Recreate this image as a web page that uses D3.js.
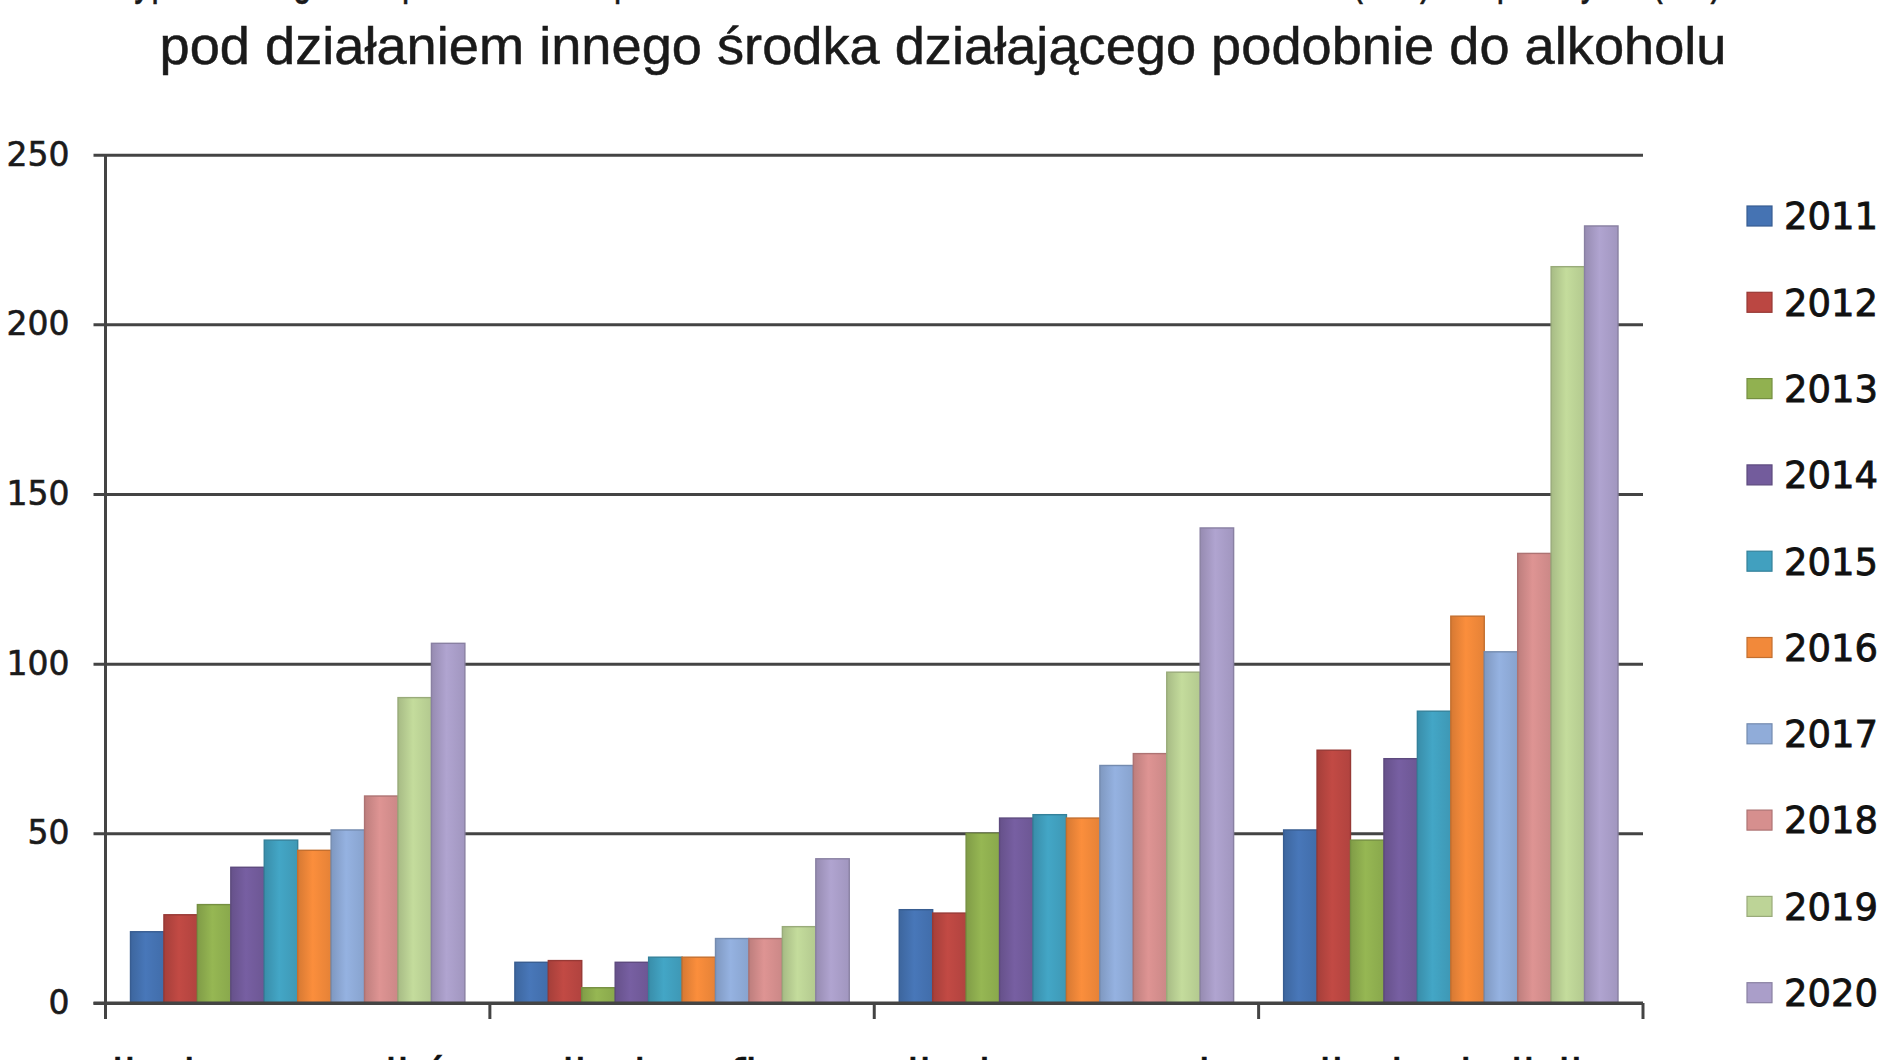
<!DOCTYPE html>
<html>
<head>
<meta charset="utf-8">
<script src="https://cdn.jsdelivr.net/npm/d3@7/dist/d3.min.js"></script>
<style>
  html, body { margin: 0; padding: 0; background: #fff; overflow: hidden; }
  svg { display: block; }
</style>
</head>
<body>
<svg id="chart" width="1880" height="1060"></svg>
<script>
const titleLines = [
  "Wypadki drogowe spowodowane przez uczestników ruchu w stanie nietrzeźwości (NW) lub po użyciu (PU)",
  "pod działaniem innego środka działającego podobnie do alkoholu"
];
const categories = ["liczba wypadków", "liczba ofiar", "liczba rannych", "liczba kolizji"];
const years = ["2011", "2012", "2013", "2014", "2015", "2016", "2017", "2018", "2019", "2020"];
const colors = ["#4573b3", "#bb4742", "#91b150", "#735c9c", "#41a0bf", "#f2893a",
                "#90acd9", "#d68f8e", "#bdd497", "#aa9ec9"];
const yTicks = [0, 50, 100, 150, 200, 250];

// values per year: [wypadki, ofiary, ranni, kolizje]
const v2011 = [21, 12, 27.5, 51];
const v2012 = [26, 12.5, 26.5, 74.5];
const v2013 = [29, 4.5, 50, 48];
const v2014 = [40, 12, 54.5, 72];
const v2015 = [48, 13.5, 55.5, 86];
const v2016 = [45, 13.5, 54.5, 114];
const v2017 = [51, 19, 70, 103.5];
const v2018 = [61, 19, 73.5, 132.5];
const v2019 = [90, 22.5, 97.5, 217];
const v2020 = [106, 42.5, 140, 229];
const series = [v2011, v2012, v2013, v2014, v2015, v2016, v2017, v2018, v2019, v2020];

const svg = d3.select("#chart");
const plotLeft = 105.5, plotRight = 1643, plotTop = 154.7, plotBottom = 1003;
const lineColor = "#444";

const x0 = d3.scaleBand().domain(categories).range([plotLeft, plotRight]).padding(0);
const x1 = d3.scaleBand().domain(years).range([25, x0.bandwidth() - 25]).padding(0);
const y = d3.scaleLinear().domain([0, 250]).range([plotBottom, plotTop]);

svg.append("rect").attr("width", 1880).attr("height", 1060).attr("fill", "#fff");

// gradients, Excel-like shading
const defs = svg.append("defs");
years.forEach((yr, i) => {
  const c = d3.color(colors[i]);
  const g = defs.append("linearGradient").attr("id", "g" + yr)
    .attr("x1", "0%").attr("x2", "100%").attr("y1", "0%").attr("y2", "0%");
  g.append("stop").attr("offset", "0%").attr("stop-color", c.darker(0.35));
  g.append("stop").attr("offset", "45%").attr("stop-color", c.brighter(0.1));
  g.append("stop").attr("offset", "100%").attr("stop-color", c.darker(0.15));
});

// title (first line is cut by the top edge in the source)
const titleFont = "'Liberation Sans Narrow', 'Arial Narrow', 'Liberation Sans', sans-serif";
svg.append("text")
  .attr("x", 912).attr("y", -6)
  .attr("text-anchor", "middle")
  .attr("textLength", 1620).attr("lengthAdjust", "spacingAndGlyphs")
  .style("font-family", titleFont)
  .style("font-size", "50px").attr("fill", "#1a1a1a")
  .attr("stroke", "#1a1a1a").attr("stroke-width", 0.5)
  .text(titleLines[0]);
svg.append("text")
  .attr("x", 943).attr("y", 64)
  .attr("text-anchor", "middle")
  .attr("textLength", 1567).attr("lengthAdjust", "spacingAndGlyphs")
  .style("font-family", titleFont)
  .style("font-size", "51px").attr("fill", "#1a1a1a")
  .attr("stroke", "#1a1a1a").attr("stroke-width", 0.5)
  .text(titleLines[1]);

// gridlines + y axis
const yAxis = d3.axisLeft(y).tickValues(yTicks).tickSize(-(plotRight - plotLeft + 12)).tickPadding(24);
const gy = svg.append("g").attr("transform", `translate(${plotLeft - 12},0)`).call(yAxis);
gy.select(".domain").remove();
gy.selectAll(".tick line").attr("stroke", lineColor).attr("stroke-width", 3);
gy.selectAll(".tick text")
  .style("font-family", "'DejaVu Sans', Verdana, sans-serif")
  .style("font-size", "33px").attr("fill", "#1a1a1a")
  .attr("stroke", "#1a1a1a").attr("stroke-width", 0.6);

// bars
const groups = svg.append("g").selectAll("g")
  .data(categories)
  .join("g")
  .attr("transform", d => `translate(${x0(d)},0)`);

groups.selectAll("rect")
  .data((d, ci) => years.map((yr, si) => ({ yr, si, v: series[si][ci] })))
  .join("rect")
  .attr("x", d => x1(d.yr))
  .attr("width", x1.bandwidth())
  .attr("y", d => y(d.v))
  .attr("height", d => y(0) - y(d.v))
  .attr("fill", d => `url(#g${d.yr})`)
  .attr("stroke", d => d3.color(colors[d.si]).darker(0.6))
  .attr("stroke-width", 1.4);

// vertical axis line
svg.append("line")
  .attr("x1", plotLeft).attr("x2", plotLeft).attr("y1", plotTop).attr("y2", plotBottom + 16)
  .attr("stroke", lineColor).attr("stroke-width", 3);

// x axis (labels are cut by the bottom edge in the source)
const xAxis = d3.axisBottom(x0).tickSize(0).tickPadding(57);
const gx = svg.append("g").attr("transform", `translate(0,${plotBottom})`).call(xAxis);
gx.select(".domain").remove();
gx.selectAll(".tick text")
  .style("font-family", "'DejaVu Sans', Verdana, sans-serif")
  .style("font-size", "44px").attr("fill", "#111")
  .attr("stroke", "#111").attr("stroke-width", 0.7);

svg.append("line")
  .attr("x1", plotLeft - 12).attr("x2", plotRight).attr("y1", plotBottom).attr("y2", plotBottom)
  .attr("stroke", lineColor).attr("stroke-width", 3);

const bounds = categories.map(c => x0(c)).concat([plotRight]);
svg.append("g").selectAll("line")
  .data(bounds)
  .join("line")
  .attr("x1", d => d).attr("x2", d => d)
  .attr("y1", plotBottom).attr("y2", plotBottom + 16)
  .attr("stroke", lineColor).attr("stroke-width", 3);

// legend
const legend = svg.append("g").selectAll("g")
  .data(years)
  .join("g")
  .attr("transform", (d, i) => `translate(1747,${216 + i * 86.3})`);
legend.append("rect")
  .attr("x", 0).attr("y", -10).attr("width", 25).attr("height", 20)
  .attr("fill", (d, i) => colors[i])
  .attr("stroke", (d, i) => d3.color(colors[i]).darker(0.6)).attr("stroke-width", 1.2);
legend.append("text")
  .attr("x", 37).attr("y", 0).attr("dy", "0.36em")
  .style("font-family", "'DejaVu Sans', Verdana, sans-serif")
  .style("font-size", "37px").attr("fill", "#111")
  .attr("stroke", "#111").attr("stroke-width", 0.8)
  .text(d => d);
</script>
</body>
</html>
